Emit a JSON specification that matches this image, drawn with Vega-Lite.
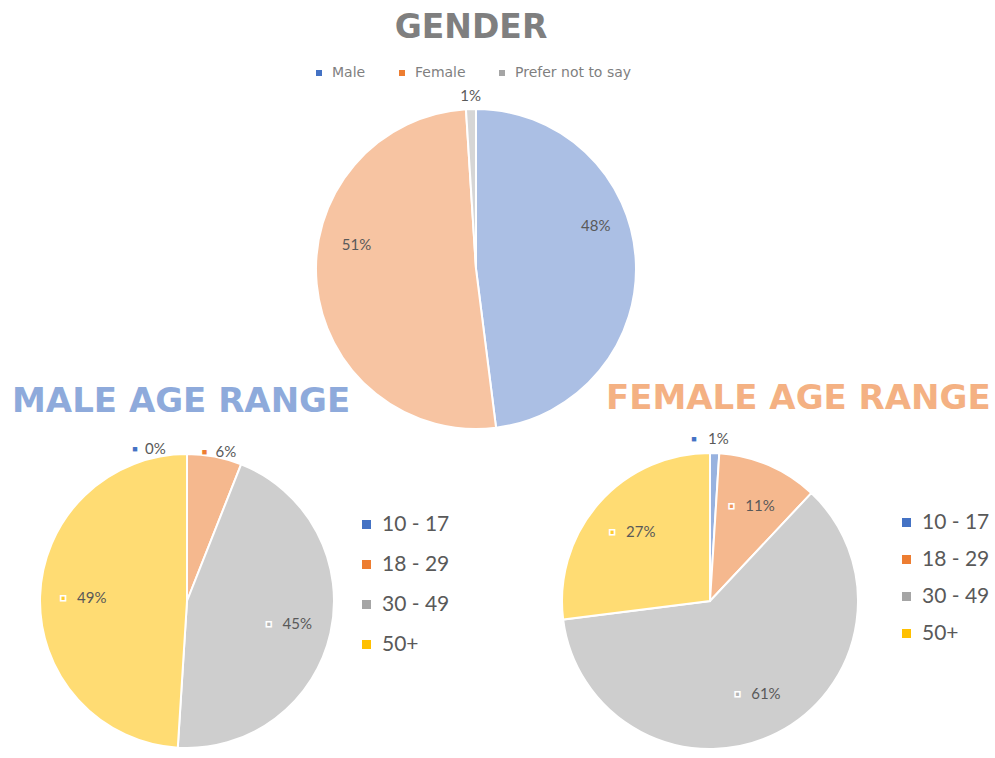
{
  "$schema": "https://vega.github.io/schema/vega-lite/v6.json",
  "padding": {"left": 0, "top": 12, "right": 0, "bottom": 0},
  "autosize": {"type": "pad"},
  "bounds": "flush",
  "spacing": 24,
  "resolve": {"scale": {"color": "independent"}, "legend": {"color": "independent"}},
  "config": {"view": {"stroke": null}, "font": "Lato"},
  "vconcat": [
    {
      "width": 952,
      "height": 320,
      "title": {"text": "GENDER", "font": "DejaVu Sans", "fontSize": 33, "fontWeight": "bold", "color": "#7f7f7f", "anchor": "middle", "dx": -5, "offset": 21},
      "data": {"values": [
        {"gender": "Male", "pct": 0.48, "k": 1},
        {"gender": "Female", "pct": 0.51, "k": 2},
        {"gender": "Prefer not to say", "pct": 0.01, "k": 3}
      ]},
      "layer": [
        {
          "mark": {"type": "arc", "outerRadius": 160, "fillOpacity": 0.45, "stroke": "white", "strokeWidth": 2},
          "encoding": {
            "theta": {"field": "pct", "type": "quantitative", "stack": true},
            "order": {"field": "k", "type": "quantitative"},
            "color": {
              "field": "gender", "type": "nominal",
              "scale": {"domain": ["Male", "Female", "Prefer not to say"], "range": ["#4472c4", "#ed7d31", "#a5a5a5"]},
              "legend": {"orient": "none", "direction": "horizontal", "legendX": 312, "legendY": -43, "title": null, "symbolType": "square", "symbolSize": 36, "symbolOpacity": 1, "symbolStrokeWidth": 0, "labelFont": "DejaVu Sans", "labelFontSize": 14, "labelColor": "#7f7f7f", "labelOffset": 6, "columnPadding": 29, "padding": 0}
            }
          }
        },
        {
          "mark": {"type": "text", "radius": 120, "dy": -35, "font": "Lato", "fontSize": 15, "fill": "#595959"},
          "encoding": {
            "theta": {"field": "pct", "type": "quantitative", "stack": true},
            "order": {"field": "k", "type": "quantitative"},
            "text": {"condition": {"test": "datum.pct >= 0.1", "field": "pct", "type": "quantitative", "format": ".0%"}, "value": ""}
          }
        },
        {
          "mark": {"type": "text", "radius": 173, "font": "Lato", "fontSize": 15, "fill": "#595959"},
          "encoding": {
            "theta": {"field": "pct", "type": "quantitative", "stack": true},
            "order": {"field": "k", "type": "quantitative"},
            "text": {"condition": {"test": "datum.pct < 0.1", "field": "pct", "type": "quantitative", "format": ".0%"}, "value": ""}
          }
        }
      ]
    },
    {
      "hconcat": [
        {
          "width": 374,
          "height": 296,
          "title": {"text": "MALE AGE RANGE", "font": "DejaVu Sans", "fontSize": 34, "fontWeight": "bold", "color": "#8eaadb", "anchor": "start", "frame": "group", "dx": 12, "offset": 23},
          "data": {"values": [
            {"age": "10 - 17", "pct": 0.0, "k": 1},
            {"age": "18 - 29", "pct": 0.06, "k": 2},
            {"age": "30 - 49", "pct": 0.45, "k": 3},
            {"age": "50+", "pct": 0.49, "k": 4}
          ]},
          "encoding": {
            "theta": {"field": "pct", "type": "quantitative", "stack": true},
            "order": {"field": "k", "type": "quantitative"}
          },
          "layer": [
            {
              "mark": {"type": "arc", "outerRadius": 147, "fillOpacity": 0.55, "stroke": "white", "strokeWidth": 2},
              "encoding": {
                "color": {
                  "field": "age", "type": "nominal",
                  "scale": {"domain": ["10 - 17", "18 - 29", "30 - 49", "50+"], "range": ["#4472c4", "#ed7d31", "#a5a5a5", "#ffc000"]},
                  "legend": {"orient": "none", "legendX": 356, "legendY": 61, "title": null, "symbolType": "square", "symbolSize": 81, "symbolOpacity": 1, "symbolStrokeWidth": 0, "labelFont": "Lato", "labelFontSize": 21, "labelColor": "#595959", "labelOffset": 5, "rowPadding": 18, "padding": 0}
                }
              }
            },
            {
              "mark": {"type": "text", "radius": 104, "align": "left", "dx": -6, "font": "Lato", "fontSize": 15, "fill": "#595959"},
              "encoding": {
                "text": {"condition": {"test": "datum.pct >= 0.1", "field": "pct", "type": "quantitative", "format": ".0%"}, "value": ""}
              }
            },
            {
              "mark": {"type": "text", "radius": 104, "dx": -20, "fontSize": 10, "fillOpacity": 0.6, "stroke": "white", "strokeWidth": 1.5},
              "encoding": {
                "text": {"value": "■"},
                "color": {"field": "age", "type": "nominal", "legend": null},
                "opacity": {"condition": {"test": "datum.pct >= 0.1", "value": 1}, "value": 0}
              }
            },
            {
              "transform": [{"filter": "datum.pct < 0.1 && datum.pct > 0"}],
              "mark": {"type": "text", "radius": 152, "align": "left", "dx": 0, "font": "Lato", "fontSize": 15, "fill": "#595959"},
              "encoding": {
                "text": {"field": "pct", "type": "quantitative", "format": ".0%"}
              }
            },
            {
              "transform": [{"filter": "datum.pct < 0.1 && datum.pct > 0"}],
              "mark": {"type": "text", "radius": 152, "dx": -11, "fontSize": 9},
              "encoding": {
                "text": {"value": "■"},
                "color": {"field": "age", "type": "nominal", "legend": null}
              }
            },
            {
              "transform": [{"filter": "datum.pct == 0"}],
              "mark": {"type": "text", "radius": 152, "align": "left", "dx": -42, "font": "Lato", "fontSize": 15, "fill": "#595959"},
              "encoding": {
                "text": {"field": "pct", "type": "quantitative", "format": ".0%"}
              }
            },
            {
              "transform": [{"filter": "datum.pct == 0"}],
              "mark": {"type": "text", "radius": 152, "dx": -52, "fontSize": 9},
              "encoding": {
                "text": {"value": "■"},
                "color": {"field": "age", "type": "nominal", "legend": null}
              }
            }
          ]
        },
        {
          "width": 208,
          "height": 296,
          "title": {"text": "FEMALE AGE RANGE", "font": "DejaVu Sans", "fontSize": 34, "fontWeight": "bold", "color": "#f4b183", "anchor": "start", "frame": "group", "offset": 16},
          "data": {"values": [
            {"age": "10 - 17", "pct": 0.01, "k": 1},
            {"age": "18 - 29", "pct": 0.11, "k": 2},
            {"age": "30 - 49", "pct": 0.61, "k": 3},
            {"age": "50+", "pct": 0.27, "k": 4}
          ]},
          "encoding": {
            "theta": {"field": "pct", "type": "quantitative", "stack": true},
            "order": {"field": "k", "type": "quantitative"}
          },
          "layer": [
            {
              "mark": {"type": "arc", "outerRadius": 148, "fillOpacity": 0.55, "stroke": "white", "strokeWidth": 2},
              "encoding": {
                "color": {
                  "field": "age", "type": "nominal",
                  "scale": {"domain": ["10 - 17", "18 - 29", "30 - 49", "50+"], "range": ["#4472c4", "#ed7d31", "#a5a5a5", "#ffc000"]},
                  "legend": {"orient": "none", "legendX": 290, "legendY": 59, "title": null, "symbolType": "square", "symbolSize": 81, "symbolOpacity": 1, "symbolStrokeWidth": 0, "labelFont": "Lato", "labelFontSize": 21, "labelColor": "#595959", "labelOffset": 5, "rowPadding": 15, "padding": 0}
                }
              }
            },
            {
              "mark": {"type": "text", "radius": 104, "align": "left", "dx": -6, "font": "Lato", "fontSize": 15, "fill": "#595959"},
              "encoding": {
                "text": {"condition": {"test": "datum.pct >= 0.1", "field": "pct", "type": "quantitative", "format": ".0%"}, "value": ""}
              }
            },
            {
              "mark": {"type": "text", "radius": 104, "dx": -20, "fontSize": 10, "fillOpacity": 0.6, "stroke": "white", "strokeWidth": 1.5},
              "encoding": {
                "text": {"value": "■"},
                "color": {"field": "age", "type": "nominal", "legend": null},
                "opacity": {"condition": {"test": "datum.pct >= 0.1", "value": 1}, "value": 0}
              }
            },
            {
              "transform": [{"filter": "datum.pct < 0.1"}],
              "mark": {"type": "text", "radius": 162, "align": "left", "dx": -7, "font": "Lato", "fontSize": 15, "fill": "#595959"},
              "encoding": {
                "text": {"field": "pct", "type": "quantitative", "format": ".0%"}
              }
            },
            {
              "transform": [{"filter": "datum.pct < 0.1"}],
              "mark": {"type": "text", "radius": 162, "dx": -21, "fontSize": 9},
              "encoding": {
                "text": {"value": "■"},
                "color": {"field": "age", "type": "nominal", "legend": null}
              }
            }
          ]
        }
      ],
      "spacing": 232,
      "bounds": "flush",
      "resolve": {"scale": {"color": "independent"}, "legend": {"color": "independent"}}
    }
  ]
}
